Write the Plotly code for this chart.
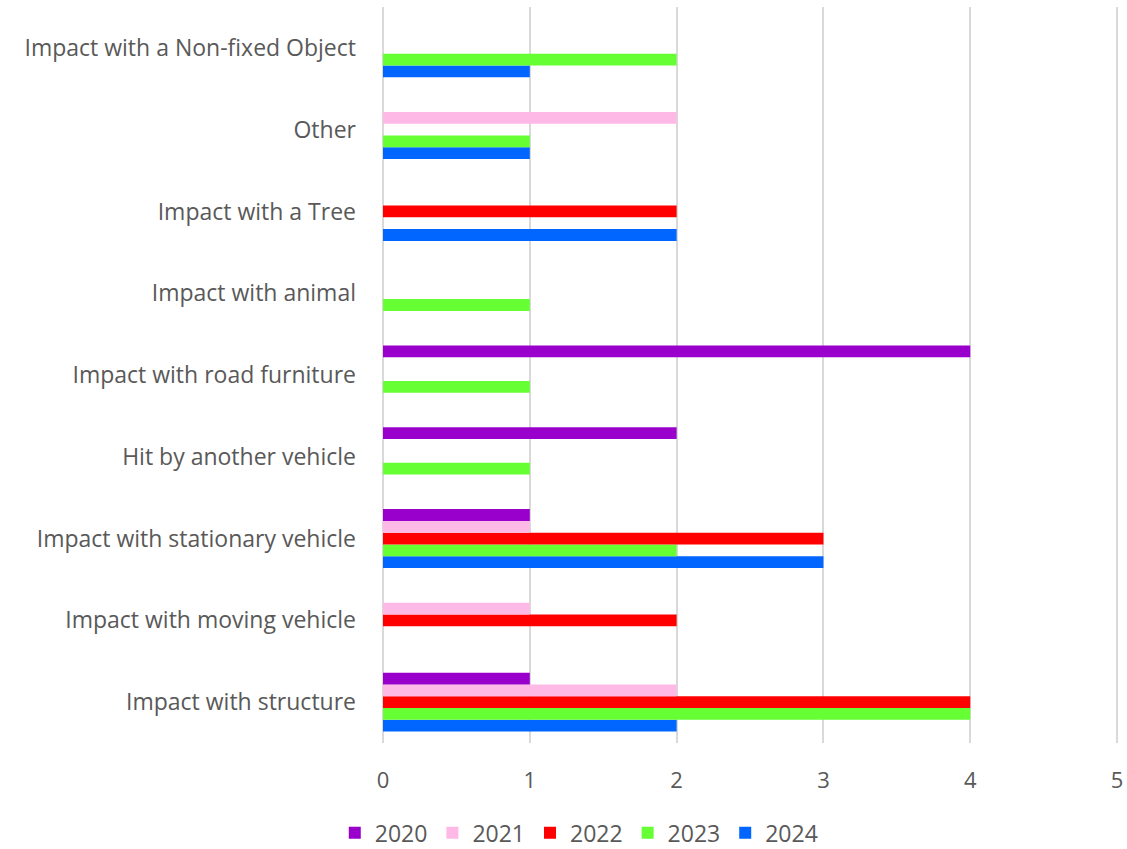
import plotly.graph_objects as go

categories = [
    "Impact with structure",
    "Impact with moving vehicle",
    "Impact with stationary vehicle",
    "Hit by another vehicle",
    "Impact with road furniture",
    "Impact with animal",
    "Impact with a Tree",
    "Other",
    "Impact with a Non-fixed Object",
]

years = ["2020", "2021", "2022", "2023", "2024"]
v2020 = [1, 0, 1, 2, 4, 0, 0, 0, 0]
v2021 = [2, 1, 1, 0, 0, 0, 0, 2, 0]
v2022 = [4, 2, 3, 0, 0, 0, 2, 0, 0]
v2023 = [4, 0, 2, 1, 1, 1, 0, 1, 2]
v2024 = [2, 0, 3, 0, 0, 0, 2, 1, 1]
values = {"2020": v2020, "2021": v2021, "2022": v2022, "2023": v2023, "2024": v2024}
colors = {"2020": "#9900CC", "2021": "#FFB9E6", "2022": "#FF0000", "2023": "#66FF33", "2024": "#0066FF"}

fig = go.Figure()
for y in reversed(years):
    fig.add_trace(go.Bar(
        y=categories, x=values[y], name=y, orientation="h",
        marker=dict(color=colors[y], line=dict(width=0)),
    ))

font_family = "Open Sans, Liberation Sans, Arial, sans-serif"
fig.update_layout(
    width=1127, height=849,
    barmode="group", bargap=0.28, bargroupgap=0,
    plot_bgcolor="white", paper_bgcolor="white",
    margin=dict(l=383, r=4, t=7, b=106),
    font=dict(family=font_family, size=22, color="#595959"),
    xaxis=dict(range=[0, 5.02], tickvals=[0, 1, 2, 3, 4, 5], showgrid=True,
               gridcolor="#D9D9D9", gridwidth=2,
               zeroline=True, zerolinecolor="#D9D9D9", zerolinewidth=2,
               showline=False, ticks="", tickfont=dict(size=22), ticklabelstandoff=22),
    yaxis=dict(showgrid=False, showline=False, ticks="", ticklabelstandoff=26,
               tickfont=dict(size=23)),
    legend=dict(orientation="h", traceorder="reversed", xref="container", x=0.514, xanchor="center",
                yref="container", y=0.019, yanchor="middle", font=dict(size=23),
                itemwidth=30, itemsizing="constant"),
    showlegend=True,
)
fig.write_html(
    "out.html",
    config={"displayModeBar": False},
    post_script="document.documentElement.style.overflow='hidden';document.body.style.margin='0';document.body.style.overflow='hidden';",
)
